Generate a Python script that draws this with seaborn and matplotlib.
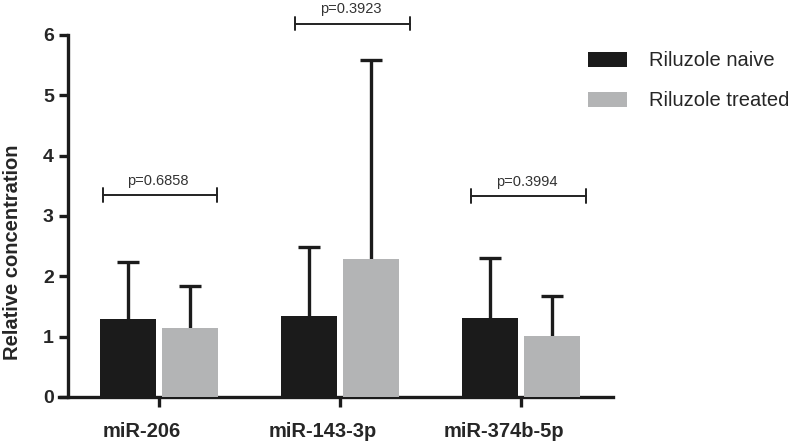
import pandas as pd
import numpy as np
import seaborn as sns
import matplotlib.pyplot as plt
import matplotlib.transforms as mtransforms
from matplotlib.patches import Patch

# data
mirnas = ["miR-206", "miR-143-3p", "miR-374b-5p"]
groups = ["Riluzole naive", "Riluzole treated"]
naive_mean = [1.29, 1.35, 1.31]
naive_sd = [0.95, 1.14, 0.99]
treated_mean = [1.15, 2.28, 1.01]
treated_sd = [0.69, 3.31, 0.66]
p_labels = ["p=0.6858", "p=0.3923", "p=0.3994"]
p_heights = [3.35, 6.19, 3.33]
yticks = [0, 1, 2, 3, 4, 5, 6]

colors = ["#1b1b1b", "#b3b4b5"]
# brackets are not exactly centred on the groups in the original
bracket_shift = [0.006, 0.069, 0.041]


def main():
    sns.set_style("ticks")
    plt.rcParams['font.family'] = ['Liberation Sans', 'DejaVu Sans']

    df = pd.DataFrame({
        "miRNA": mirnas * 2,
        "group": [groups[0]] * 3 + [groups[1]] * 3,
        "value": naive_mean + treated_mean,
    })

    fig = plt.figure(figsize=(7.91, 4.45), dpi=100)
    ax = fig.add_axes([0.0746, 0.1079, 0.7004, 0.8135])

    sns.barplot(data=df, x="miRNA", y="value", hue="group", palette=colors,
                width=0.68, gap=0.09, errorbar=None, legend=False,
                saturation=1, linewidth=0, ax=ax, zorder=3)

    # one-sided (upper) error bars
    for cont, sd in zip(ax.containers, [naive_sd, treated_sd]):
        xs = [p.get_x() + p.get_width() / 2 for p in cont]
        ys = [p.get_height() for p in cont]
        eb = ax.errorbar(xs, ys, yerr=[np.zeros(len(sd)), sd], fmt="none",
                         ecolor="#1b1b1b", elinewidth=2.4, capsize=8, capthick=2.4,
                         zorder=2, clip_on=False)
        # hide the cap sitting on the bar top
        eb[1][0].set_visible(False)

    # p-value brackets
    for i, (lab, h, sh) in enumerate(zip(p_labels, p_heights, bracket_shift)):
        x0 = i + sh - 0.315
        x1 = i + sh + 0.315
        ax.plot([x0, x1], [h, h], color="#222222", lw=1.4, clip_on=False)
        ax.plot([x0, x0], [h - 0.115, h + 0.115], color="#222222", lw=1.4, clip_on=False)
        ax.plot([x1, x1], [h - 0.115, h + 0.115], color="#222222", lw=1.4, clip_on=False)
        ax.text((x0 + x1) / 2 - 0.01, h + 0.12, lab, ha="center", va="bottom",
                fontsize=10.5, color="#333333")

    ax.set_xlim(-0.552, 2.508)
    ax.set_ylim(0, 6)
    ax.set_yticks(yticks)
    ax.spines['left'].set_position(('data', -0.5))
    sns.despine(ax=ax)
    for s in ['left', 'bottom']:
        ax.spines[s].set_linewidth(2.4)
        ax.spines[s].set_color("#1b1b1b")

    ax.tick_params(axis='y', length=6.5, width=2.4, color="#1b1b1b", pad=4, labelsize=14)
    ax.tick_params(axis='x', length=7, width=2.4, color="#1b1b1b", pad=11, labelsize=14.5)
    shift = mtransforms.ScaledTranslation(-17 / 100, 0, fig.dpi_scale_trans)
    for t in ax.get_xticklabels():
        t.set_fontweight('bold')
        t.set_transform(t.get_transform() + shift)
    for t in ax.get_yticklabels():
        t.set_fontweight('bold')

    ax.set_xlabel('')
    ax.set_ylabel('Relative concentration', fontsize=14.5, fontweight='bold')
    ax.yaxis.set_label_coords(-0.066, 0.40)

    handles = [Patch(facecolor=c, edgecolor='none') for c in colors]
    fig.legend(handles, groups, loc="upper left", bbox_to_anchor=(0.743, 0.885),
               frameon=False, fontsize=14.5, handlelength=1.95, handleheight=0.75,
               handletextpad=1.1, labelspacing=1.05, borderpad=0, borderaxespad=0)

    fig.savefig("out.png", dpi=100)


if __name__ == '__main__':
    main()
